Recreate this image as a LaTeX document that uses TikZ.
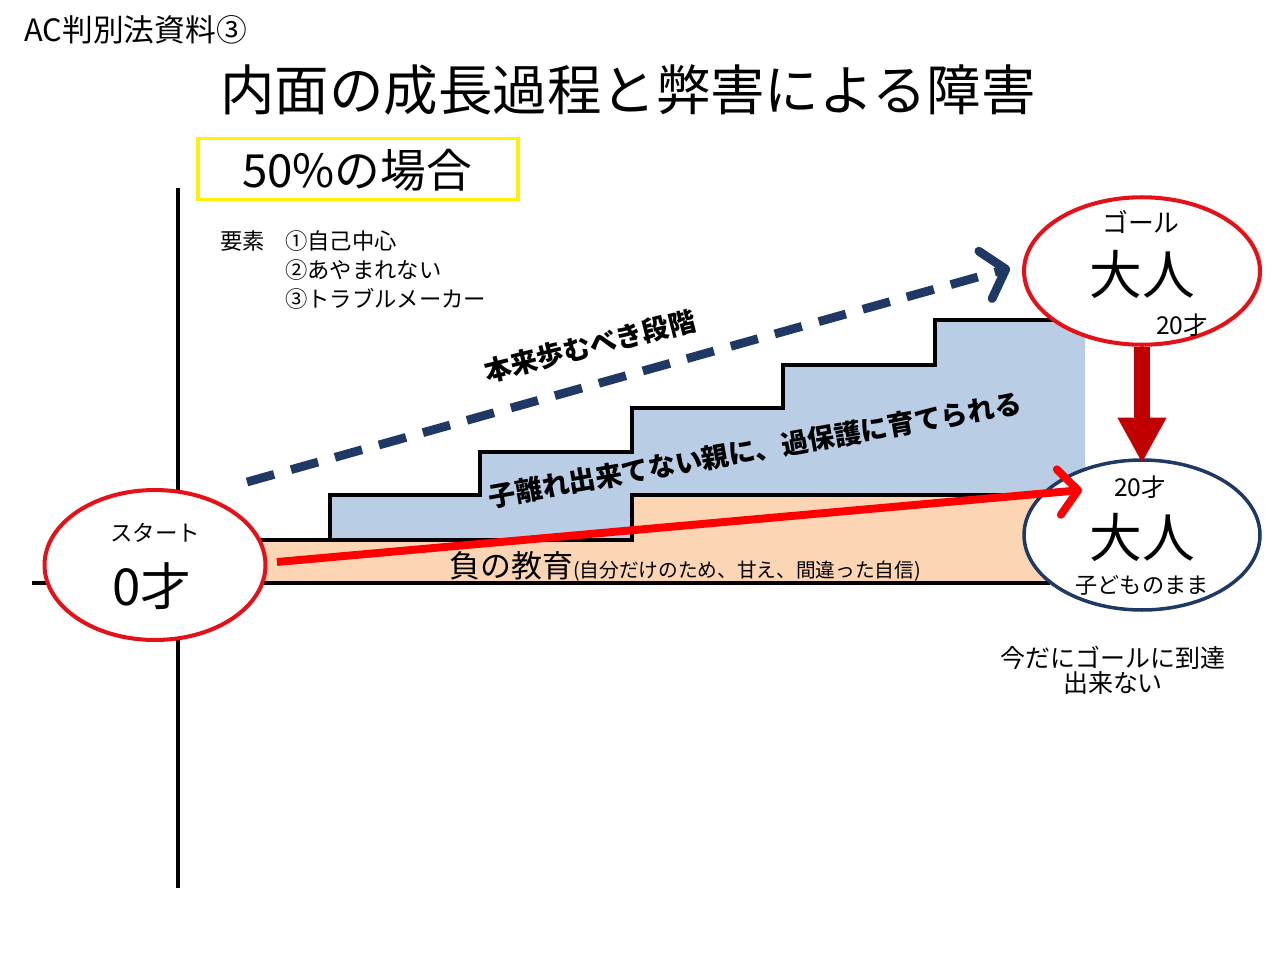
\documentclass[tikz,border=0pt]{standalone}
\usepackage{fontspec}
\setmainfont{Noto Sans CJK JP}
\usetikzlibrary{arrows.meta,shapes.geometric}
\definecolor{stepblue}{RGB}{185,205,229}
\definecolor{steporange}{RGB}{252,213,181}
\definecolor{navy}{RGB}{31,56,100}
\definecolor{ovalred}{RGB}{228,18,24}
\definecolor{darkred}{RGB}{192,0,0}
\newcommand{\myfs}[1]{\fontsize{#1pt}{#1pt}\selectfont}
\begin{document}
\begin{tikzpicture}[x=0.02cm,y=-0.02cm,
  oval/.style={ellipse, fill=white, line width=2.3pt, inner sep=0pt},
  stepline/.style={line width=2.3pt, line join=miter, line cap=rect},
  axisline/.style={line width=1.8pt},
  txt/.style={inner sep=0pt, anchor=center},
  ]
\useasboundingbox (0,0) rectangle (1280,960);
% axes
\coordinate (vtop) at (178,188);
\coordinate (vbot) at (178,888);
\coordinate (hl) at (32,583);
\coordinate (hr) at (1050,583);
\draw[axisline] (vtop) -- (vbot);
\draw[axisline] (hl) -- (hr);
% stairs fills
\fill[stepblue] (330,540) -- (330,495) -- (480,495) -- (480,452) -- (632,452) -- (632,408)
  -- (783,408) -- (783,365) -- (935,365) -- (935,320) -- (1085,320) -- (1085,495)
  -- (632,495) -- (632,540) -- cycle;
\fill[steporange] (150,540) -- (632,540) -- (632,495) -- (1085,495) -- (1085,583) -- (150,583) -- cycle;
\draw[axisline] (150,583) -- (1050,583);
\draw[stepline] (150,540) -- (632,540) -- (632,495) -- (1060,495);
\draw[stepline] (330,540) -- (330,495) -- (480,495) -- (480,452) -- (632,452) -- (632,408)
  -- (783,408) -- (783,365) -- (935,365) -- (935,320) -- (1060,320);
% ovals
\node[oval, draw=ovalred, minimum width=4.42cm, minimum height=3.0cm] (start) at (155,565) {};
\node[oval, draw=ovalred, minimum width=4.72cm, minimum height=2.95cm] (goal) at (1142,271) {};
\node[oval, draw=navy, line width=2pt, minimum width=4.72cm, minimum height=3.0cm] (child) at (1142,535) {};
% header texts
\node[txt, anchor=west] (doc) at (24,30) {\myfs{17.5}AC判別法資料③};
\node[txt] (title) at (628,90) {\myfs{31}内面の成長過程と弊害による障害};
\node[draw=yellow, line width=1.8pt, minimum width=6.4cm, minimum height=1.22cm, inner sep=0pt] (case) at (358,169) {};
\node[txt] (casetxt) at (357,170) {\myfs{26}50\%の場合};
\node[txt, anchor=west] (elem) at (220,241) {\myfs{12.7}要素};
\node[txt, anchor=west] (e1) at (285,241) {\myfs{12.7}①自己中心};
\node[txt, anchor=west] (e2) at (285,270) {\myfs{12.7}②あやまれない};
\node[txt, anchor=west] (e3) at (285,299) {\myfs{12.7}③トラブルメーカー};
% oval texts
\node[txt] (st1) at (155,533) {\myfs{12.8}スタート};
\node[txt] (st2) at (152,586) {\myfs{29}0才};
\node[txt] (g1) at (1141,222) {\myfs{14.7}ゴール};
\node[txt] (g2) at (1142,274) {\myfs{30}大人};
\node[txt] (g3) at (1182,325) {\myfs{14}20才};
\node[txt] (c1) at (1140,487) {\myfs{14}20才};
\node[txt] (c2) at (1142,537) {\myfs{30}大人};
\node[txt] (c3) at (1142,585) {\myfs{12.6}子どものまま};
\node[txt] (n1) at (1113,658) {\myfs{14.2}今だにゴールに到達};
\node[txt] (n2) at (1113,683) {\myfs{14.2}出来ない};
% band texts
\node[txt, rotate=14] (ideal) at (590,346) {\myfs{15.4}\bfseries 本来歩むべき段階};
\node[txt, rotate=10] (over) at (755,450) {\myfs{15.4}\bfseries 子離れ出来てない親に、過保護に育てられる};
\node[txt, anchor=west] (neg) at (449,566) {\myfs{17.6}負の教育\myfs{11.2}(自分だけのため、甘え、間違った自信)};
% arrows
\coordinate (d0) at (247,482);
\coordinate (d1) at (1010,268);
\draw[navy, line width=5pt, dash pattern=on 16pt off 10pt,
  -{Straight Barb[length=12pt,width=28pt,round]}] (d0) -- (d1);
\coordinate (r0) at (277,562);
\coordinate (r1) at (1082,490);
\draw[red, line width=4.5pt, -{Straight Barb[length=11pt,width=26pt,round]}] (r0) -- (r1);
\draw[darkred, line width=9.6pt, -{Triangle[length=26pt,width=26pt]}] (goal.south) -- ([yshift=-0.1cm]child.north);
\end{tikzpicture}
\end{document}
